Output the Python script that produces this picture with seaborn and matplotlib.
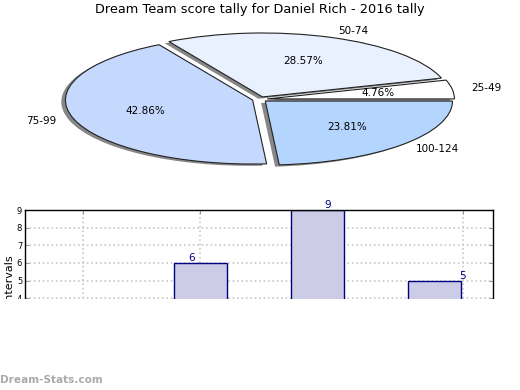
import matplotlib
matplotlib.use("Agg")
import matplotlib.pyplot as plt
import seaborn as sns
import pandas as pd
from matplotlib.patches import Rectangle

# data
intervals = ["25-49", "50-74", "75-99", "100-124"]
counts = [1, 6, 9, 5]
pie_colors = ["#ffffff", "#eaf1fe", "#c5d8fe", "#b4d5fe"]
title = "Dream Team score tally for Daniel Rich - 2016 tally"

df = pd.DataFrame({"interval": intervals, "count": counts})

sns.set_style("white")
plt.rcParams["font.family"] = ["DejaVu Sans"]
plt.rcParams["text.color"] = "black"
plt.rcParams["axes.labelcolor"] = "black"

fig = plt.figure(figsize=(5.2, 3.9), dpi=100)

# pie on top, squashed into an ellipse
ax_pie = fig.add_axes([0.0496, 0.5403, 0.9, 0.41])
wedges, texts, autotexts = ax_pie.pie(
    df["count"], labels=df["interval"], colors=pie_colors,
    explode=[0.04] * len(counts),
    shadow={"ox": -0.016, "oy": -0.02, "facecolor": "#7a7a7a",
            "edgecolor": "none", "alpha": 0.9},
    autopct="%.2f%%", startangle=0,
    wedgeprops=dict(edgecolor="#222222", linewidth=0.8),
    textprops=dict(fontsize=7.5, color="black"))
ax_pie.set_aspect("auto")
ax_pie.set_xlim(-1.25, 1.25)
ax_pie.set_ylim(-1.25, 1.25)

fig.text(0.5, 1 - 10 / 390, title, ha="center", va="center", fontsize=9.3)

# bar chart below
ax = fig.add_axes([0.048, 0.0551, 0.9, 0.4062])
sns.barplot(data=df, x="interval", y="count", color="#ccccE6", edgecolor="#000080",
            linewidth=1, width=0.456, saturation=1, ax=ax)
ax.set_xlim(-0.5, 3.5)
ax.set_ylim(0, 9)
ax.set_yticks(range(0, 10))
ax.set_xticks([0, 1, 2.08, 3.24], labels=[])
ax.set_xlabel("")
ax.set_ylabel("Intervals", fontsize=8)
ax.yaxis.set_label_coords(-0.0235, 0.571)
ax.grid(True, linestyle=":", color="#c8c8c8", linewidth=1.2)
ax.set_axisbelow(True)
ax.tick_params(axis="both", which="both", direction="in", length=3, color="#999999",
               labelcolor="black", labelsize=6, pad=2,
               top=True, right=True, left=True, bottom=True)
for s in ["top", "left", "right"]:
    ax.spines[s].set_color("black")
    ax.spines[s].set_linewidth(1)
ax.spines["bottom"].set_visible(False)

for i, c in enumerate(counts):
    ax.text(i * 1.157 - 0.23, c, str(c), ha="center", va="bottom",
            fontsize=7.5, color="#000080")

# lower part of the panel is blanked out like in the original
fig.add_artist(Rectangle((0, 0), 1, 1 - 299 / 390, transform=fig.transFigure,
                         facecolor="white", edgecolor="none", zorder=5))
fig.text(0.0, 1 - 380 / 390, "Dream-Stats.com", color="#aaaaaa", fontsize=7.6,
         fontweight="bold", ha="left", va="center", zorder=10)

fig.savefig("out.png", dpi=100)
